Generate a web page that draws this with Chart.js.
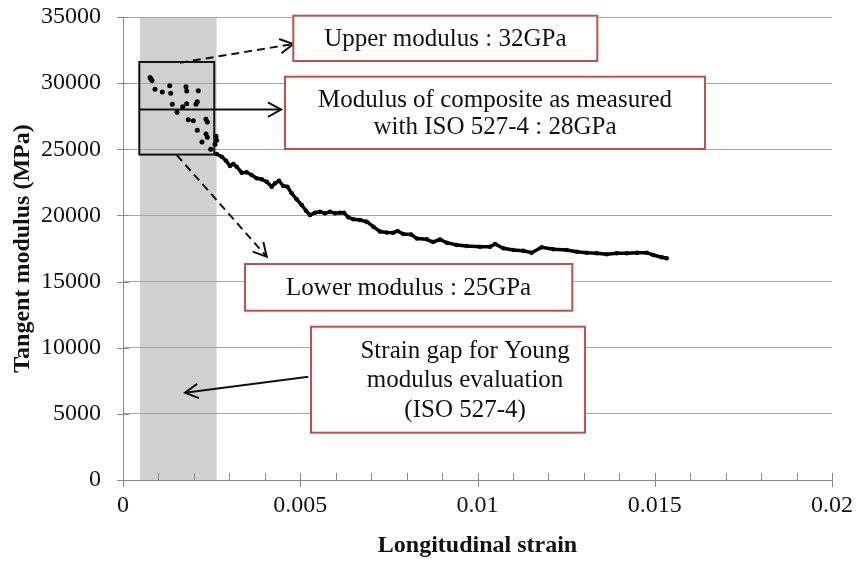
<!DOCTYPE html>
<html>
<head>
<meta charset="utf-8">
<script src="https://cdn.jsdelivr.net/npm/chart.js@4.4.1/dist/chart.umd.min.js"></script>
<style>
  html, body { margin: 0; padding: 0; background: #fff; }
  canvas { display: block; }
</style>
</head>
<body>
<canvas id="chart" width="858" height="561"></canvas>
<script>
// scattered points inside the ISO 527-4 strain gap
var gapStrain = [0.000762, 0.00079, 0.000818, 0.000903, 0.001109, 0.001317, 0.001346, 0.001777, 0.001797,
  0.002124, 0.001391, 0.001523, 0.001684, 0.001797, 0.002059, 0.002096, 0.001842, 0.001983, 0.002341,
  0.002378, 0.002096, 0.002341, 0.002378, 0.002228, 0.002474, 0.002623, 0.002643, 0.002595];
var gapModulus = [30427, 30313, 30200, 29535, 29330, 29806, 29232, 29731, 29406,
  29429, 28404, 27796, 28219, 28446, 28401, 28597, 27236, 27161, 27267,
  27063, 26435, 26155, 25906, 25551, 24999, 25980, 25678, 25375];

// rest of the tangent modulus curve
var curveStrain = [0.002643, 0.002784, 0.002906, 0.003018, 0.003111, 0.003207, 0.003348, 0.003489, 0.00363,
  0.003772, 0.003913, 0.004054, 0.004195, 0.004288, 0.004401, 0.004522, 0.004635, 0.004759, 0.0049,
  0.005041, 0.005162, 0.005275, 0.005416, 0.005557, 0.005698, 0.005839, 0.00598, 0.006121, 0.006234,
  0.006356, 0.006497, 0.006686, 0.006875, 0.007061, 0.00725, 0.007439, 0.007625, 0.007743, 0.007907,
  0.008124, 0.008293, 0.008567, 0.008745, 0.008942, 0.009131, 0.009413, 0.009695, 0.010071, 0.010353,
  0.010494, 0.010728, 0.01101, 0.011292, 0.011529, 0.011811, 0.012138, 0.012516, 0.012798, 0.01308,
  0.013363, 0.013645, 0.013927, 0.014209, 0.014491, 0.014773, 0.014959, 0.015196, 0.015337];
var curveModulus = [24644, 24440, 24137, 23737, 23888, 23684, 23230, 23260, 23056,
  22807, 22731, 22550, 22172, 22429, 22625, 22225, 22172, 21673, 21219,
  20788, 20358, 20032, 20206, 20282, 20161, 20282, 20161, 20206, 20206,
  19858, 19707, 19654, 19526, 19148, 18785, 18710, 18694, 18823, 18596,
  18558, 18256, 18195, 17991, 18180, 17938, 17765, 17689, 17636, 17636,
  17840, 17515, 17387, 17334, 17183, 17591, 17440, 17387, 17258, 17183,
  17137, 17062, 17137, 17137, 17183, 17183, 17009, 16835, 16759];

var xTicks = [0, 0.005, 0.01, 0.015, 0.02];
var xTickLabels = ['0', '0.005', '0.01', '0.015', '0.02'];
var xMinorStep = 0.001;
var yTicks = [0, 5000, 10000, 15000, 20000, 25000, 30000, 35000];
var yTickLabels = ['0', '5000', '10000', '15000', '20000', '25000', '30000', '35000'];

// annotations, in data units (strain, MPa)
var strainGap = [0.00048, 0.00264];
var gapBox = { x: [0.00046, 0.002575], y: [24600, 31600] };
var isoLine = { y: 28000, x: [0.00046, 0.00446] };
var arrows = [
  { from: [0.001608, 31545], to: [0.004804, 32959], dashed: true },
  { from: [0.001515, 24568], to: [0.004054, 16880], dashed: true },
  { from: [0.005227, 7809], to: [0.001749, 6599], dashed: false }
];
var notes = [
  { x: [0.004804, 0.01338], y: [35099, 31674], lines: ['Upper modulus : 32GPa'], cx: null },
  { x: [0.00457, 0.016418], y: [30487, 25022], lines: ['Modulus of composite as measured', 'with ISO 527-4 : 28GPa'], cx: null },
  { x: [0.003441, 0.012674], y: [16328, 12798], lines: ['Lower modulus : 25GPa'], cx: null },
  { x: [0.005303, 0.013033], y: [11589, 3576], lines: ['Strain gap for Young', 'modulus evaluation', '(ISO 527-4)'], cx: 0.00965 }
];

var serif = "'Liberation Serif', 'Times New Roman', serif";
var axisColor = '#8a8a8a';
var clear = 'rgba(0,0,0,0)';

function toPoints(xs, ys) {
  return xs.map(function (x, i) { return { x: x, y: ys[i] }; });
}

function arrowHead(ctx, x0, y0, x1, y1, len) {
  var a = Math.atan2(y1 - y0, x1 - x0);
  ctx.beginPath();
  ctx.moveTo(x1 - len * Math.cos(a - 0.5), y1 - len * Math.sin(a - 0.5));
  ctx.lineTo(x1, y1);
  ctx.lineTo(x1 - len * Math.cos(a + 0.5), y1 - len * Math.sin(a + 0.5));
  ctx.stroke();
}

var annotate = {
  id: 'annotate',
  beforeDraw: function (chart) {
    var ctx = chart.ctx, area = chart.chartArea, sx = chart.scales.x;
    ctx.save();
    ctx.fillStyle = '#d0d0d0';
    var a = sx.getPixelForValue(strainGap[0]), b = sx.getPixelForValue(strainGap[1]);
    ctx.fillRect(a, area.top, b - a, area.bottom - area.top);
    ctx.restore();
  },
  afterDraw: function (chart) {
    var ctx = chart.ctx, area = chart.chartArea;
    var sx = chart.scales.x, sy = chart.scales.y;
    var px = function (v) { return sx.getPixelForValue(v); };
    var py = function (v) { return sy.getPixelForValue(v); };
    ctx.save();

    // tick marks
    ctx.strokeStyle = axisColor;
    ctx.lineWidth = 1;
    ctx.beginPath();
    yTicks.forEach(function (v) {
      var y = Math.round(py(v)) + 0.5;
      ctx.moveTo(area.left - 6, y); ctx.lineTo(area.left + 6, y);
    });
    for (var s = 0; s <= 0.02 + 1e-9; s += xMinorStep) {
      var x = Math.round(px(s)) + 0.5;
      var major = xTicks.some(function (t) { return Math.abs(t - s) < 1e-7; });
      ctx.moveTo(x, area.bottom - 7); ctx.lineTo(x, area.bottom + (major ? 7 : 0));
    }
    ctx.stroke();

    // gap rectangle and ISO line
    ctx.strokeStyle = '#111';
    ctx.lineWidth = 2;
    ctx.strokeRect(px(gapBox.x[0]), py(gapBox.y[1]), px(gapBox.x[1]) - px(gapBox.x[0]), py(gapBox.y[0]) - py(gapBox.y[1]));
    var lx0 = px(isoLine.x[0]), lx1 = px(isoLine.x[1]), ly = py(isoLine.y);
    ctx.beginPath(); ctx.moveTo(lx0, ly); ctx.lineTo(lx1, ly); ctx.stroke();
    arrowHead(ctx, lx0, ly, lx1, ly, 15);

    arrows.forEach(function (ar) {
      var x0 = px(ar.from[0]), y0 = py(ar.from[1]), x1 = px(ar.to[0]), y1 = py(ar.to[1]);
      ctx.setLineDash(ar.dashed ? [8, 5] : []);
      ctx.beginPath(); ctx.moveTo(x0, y0); ctx.lineTo(x1, y1); ctx.stroke();
      ctx.setLineDash([]);
      arrowHead(ctx, x0, y0, x1, y1, 15);
    });

    // note boxes
    ctx.font = '25px ' + serif;
    ctx.textAlign = 'center';
    ctx.textBaseline = 'middle';
    notes.forEach(function (n) {
      var x0 = px(n.x[0]), x1 = px(n.x[1]), y0 = py(n.y[0]), y1 = py(n.y[1]);
      ctx.fillStyle = '#fff';
      ctx.fillRect(x0, y0, x1 - x0, y1 - y0);
      ctx.strokeStyle = '#c0504d';
      ctx.lineWidth = 2;
      ctx.strokeRect(x0, y0, x1 - x0, y1 - y0);
      var cx = n.cx === null ? (x0 + x1) / 2 : px(n.cx);
      var lh = n.lines.length > 2 ? 29.5 : 26.5;
      var cy = (y0 + y1) / 2 - (n.lines.length - 1) * lh / 2 + 1;
      ctx.fillStyle = '#111';
      n.lines.forEach(function (t, i) { ctx.fillText(t, cx, cy + i * lh); });
    });
    ctx.restore();
  }
};

new Chart(document.getElementById('chart'), {
  type: 'scatter',
  data: {
    datasets: [
      {
        label: 'gap',
        data: toPoints(gapStrain, gapModulus),
        backgroundColor: '#000',
        borderColor: '#000',
        pointRadius: 2.5,
        pointBorderWidth: 0
      },
      {
        label: 'curve',
        data: toPoints(curveStrain, curveModulus),
        showLine: true,
        borderColor: '#000',
        borderWidth: 3.5,
        backgroundColor: '#000',
        pointRadius: 2.3,
        pointBorderWidth: 0
      }
    ]
  },
  options: {
    responsive: false,
    animation: false,
    devicePixelRatio: 1,
    layout: { padding: { left: 0, top: 17, right: 26, bottom: 0 } },
    plugins: { legend: { display: false }, tooltip: { enabled: false } },
    scales: {
      x: {
        type: 'linear', min: 0, max: 0.02,
        afterBuildTicks: function (s) { s.ticks = xTicks.map(function (v) { return { value: v }; }); },
        afterFit: function (s) { s.height = 81; },
        grid: { display: true, color: clear, tickColor: clear, drawTicks: true, tickLength: 11 },
        border: { display: true, color: axisColor, width: 1 },
        ticks: {
          padding: 0, color: '#111', maxRotation: 0,
          font: { family: serif, size: 24 },
          callback: function (v, i) { return xTickLabels[i]; }
        },
        title: {
          display: true, text: 'Longitudinal strain', color: '#111',
          font: { family: serif, size: 24, weight: 'bold' },
          padding: { top: 0, bottom: 1 }
        }
      },
      y: {
        type: 'linear', min: 0, max: 35000,
        afterBuildTicks: function (s) { s.ticks = yTicks.map(function (v) { return { value: v }; }); },
        afterFit: function (s) { s.width = 123; },
        grid: { color: '#a6a6a6', lineWidth: 1, tickColor: clear, drawTicks: true, tickLength: 22 },
        border: { display: true, color: axisColor, width: 1 },
        ticks: {
          padding: 0, color: '#111',
          font: { family: serif, size: 24 },
          callback: function (v, i) { return yTickLabels[i]; }
        },
        title: {
          display: true, text: 'Tangent modulus (MPa)', color: '#111',
          font: { family: serif, size: 24, weight: 'bold' },
          padding: { top: 8, bottom: 0 }
        }
      }
    }
  },
  plugins: [annotate]
});
</script>
</body>
</html>
